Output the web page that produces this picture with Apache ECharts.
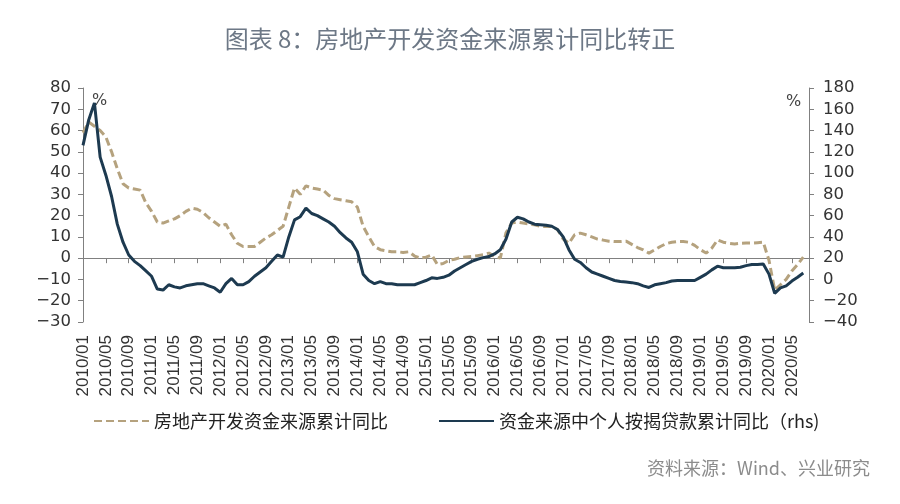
<!DOCTYPE html>
<html>
<head>
<meta charset="utf-8">
<script src="https://cdn.jsdelivr.net/npm/echarts@6/dist/echarts.min.js"></script>
<style>
html,body{margin:0;padding:0;background:#fff;}
#c{width:900px;height:504px;}
</style>
</head>
<body>
<div id="c"></div>
<script>
// ---- data ----
var years = [2010,2011,2012,2013,2014,2015,2016,2017,2018,2019,2020];
var lastMonth2020 = 8;
var categories = [];
years.forEach(function(y){
  for (var m = 1; m <= 12; m++) {
    if (y === 2020 && m > lastMonth2020) break;
    categories.push(y + '/' + (m < 10 ? '0' + m : m));
  }
});

var seriesNames = ['房地产开发资金来源累计同比', '资金来源中个人按揭贷款累计同比（rhs)'];

// 房地产开发资金来源累计同比 (%), left axis
var fundingYoY = [
  59,64,62,60,57,50,42,35,33,32.5,32,26,
  22,17,16.5,17.5,18.5,20,22,23.5,23,21.5,19,17,
  15,16,11,7,5.5,5.5,5.5,7.5,9.5,11,13,15,
  24,33,30,34,33,32.5,32,29.5,28,27.5,27,26.5,
  24,15,10,5.5,4,3.5,3,3,2.7,3,1,0,
  0.5,1.5,-3,-2.5,-1,-0.5,0.3,0.6,0.8,1.2,1.6,2.4,
  0.8,0,12,16.5,17,16.5,16,15.7,15,14.9,14.9,13.5,
  9,7,11,11.8,11,10,9,8.5,8,7.8,7.8,8,
  6.5,5,3.9,2.4,3.9,5.5,6.8,7.5,7.8,7.8,7.5,6,
  4,2.4,4.7,8.6,7.5,7,6.7,7,7.1,7.1,7.3,7.5,
  -1,-15,-12.5,-10,-6,-3,0.5,null
];

// 资金来源中个人按揭贷款累计同比 (%), right axis
var mortgageYoY = [
  126,150,166,115,98,78,52,35,23,17,13,8,
  3,-9,-10,-5,-7,-8,-6,-5,-4,-4,-6,-8,
  -12,-4,1,-5,-5,-2,3,7,11,17,23,21,
  40,56,59,67,62,60,57,54,50,44,39,35,
  26,5,-1,-4,-2,-4,-4,-5,-5,-5,-5,-3,
  -1,1.5,1,2,4,8,11,14,17,19,20.5,21.5,
  24,28,38,54,58.5,57,54,52,51.5,51,50,47,
  40,28,19,16,11,7,5,3,1,-1,-2,-2.5,
  -3,-4,-6,-7.5,-5,-4,-3,-1.5,-1,-1,-1,-1,
  2,5,9,12.5,11,11,11,11.5,13,14,14,14.5,
  5,-13,-8,-6,-1.5,2,6,null
];

var leftTicks = {min:-30, max:80, interval:10};
var rightTicks = {min:-40, max:180, interval:20};

function fmt(v){ return String(v).replace('-', '\u2212'); }

var chart = echarts.init(document.getElementById('c'), null, {renderer:'canvas'});
var axisColor = '#808080';
var option = {
  backgroundColor: '#ffffff',
  animation: false,
  title: {
    text: '图表 8：房地产开发资金来源累计同比转正',
    left: 'center',
    top: 22,
    textStyle: {fontFamily: 'Noto Sans CJK SC', fontSize: 24, fontWeight: 'normal', color: '#6d7886'}
  },
  grid: {left: 83, right: 91, top: 88, bottom: 182, containLabel: false},
  legend: {
    left: 88, top: 407,
    itemWidth: 55, itemHeight: 14, itemGap: 50,
    itemStyle: {color: 'transparent', borderColor: 'transparent', borderWidth: 0},
    textStyle: {fontFamily: 'Noto Sans CJK SC', fontSize: 18, color: '#222'},
    data: seriesNames
  },
  xAxis: [{
    type: 'category', data: categories, boundaryGap: false,
    axisLine: {onZero: true, onZeroAxisIndex: 0, lineStyle: {color: axisColor, width: 1}},
    axisTick: {show: true, interval: 3, length: 5, lineStyle: {color: axisColor}},
    axisLabel: {show: false},
    splitLine: {show: false}
  }, {
    type: 'category', data: categories, boundaryGap: false, position: 'bottom',
    axisLine: {show: false, onZero: false},
    axisTick: {show: false},
    axisLabel: {rotate: 90, interval: 3, margin: 13, fontSize: 17, fontFamily: 'Liberation Sans', color: '#333', padding: [7,0,0,0]},
    splitLine: {show: false}
  }],
  yAxis: [{
    type: 'value', position: 'left', min: leftTicks.min, max: leftTicks.max, interval: leftTicks.interval,
    axisLine: {show: true, lineStyle: {color: axisColor}},
    axisTick: {show: true, length: 5, lineStyle: {color: axisColor}},
    axisLabel: {margin: 12, fontSize: 16.5, fontFamily: 'DejaVu Sans', color: '#333', formatter: fmt},
    splitLine: {show: false}
  }, {
    type: 'value', position: 'right', min: rightTicks.min, max: rightTicks.max, interval: rightTicks.interval,
    axisLine: {show: true, lineStyle: {color: axisColor}},
    axisTick: {show: true, length: 5, lineStyle: {color: axisColor}},
    axisLabel: {margin: 14, fontSize: 16.5, fontFamily: 'DejaVu Sans', color: '#333', formatter: fmt},
    splitLine: {show: false}
  }],
  graphic: [
    {type: 'text', left: 92, top: 93, style: {text: '%', font: '16px "DejaVu Sans"', fill: '#444'}},
    {type: 'text', left: 786, top: 94, style: {text: '%', font: '16px "DejaVu Sans"', fill: '#444'}},
    {type: 'text', right: 30, top: 459, style: {text: '资料来源：Wind、兴业研究', font: '18px "Noto Sans CJK SC"', fill: '#8c8c8c'}}
  ],
  series: [{
    name: seriesNames[0], type: 'line', xAxisIndex: 0, yAxisIndex: 0,
    data: fundingYoY, symbol: 'none', z: 2,
    lineStyle: {color: '#b5a27e', width: 3, type: [8, 4]},
    itemStyle: {color: '#b5a27e'}
  }, {
    name: seriesNames[1], type: 'line', xAxisIndex: 0, yAxisIndex: 1,
    data: mortgageYoY, symbol: 'none', z: 3,
    lineStyle: {color: '#1d3a50', width: 3},
    itemStyle: {color: '#1d3a50'}
  }]
};
chart.setOption(option);
</script>
</body>
</html>
